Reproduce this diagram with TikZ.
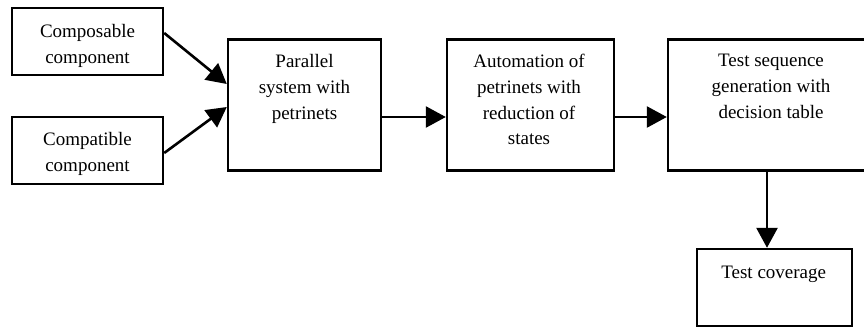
\documentclass[tikz,border=0pt]{standalone}
\usepackage{fontspec}
\setmainfont{Liberation Serif}
\usetikzlibrary{arrows.meta}
\begin{document}
\begin{tikzpicture}[x=1pt,y=-1pt,
  box/.style={draw, line width=2.4pt, rectangle, inner sep=0pt},
  txt/.style={anchor=north, align=center, inner sep=0pt, font=\fontsize{19}{25.8}\selectfont},
  arr/.style={line width=2.6pt, -{Triangle[length=20pt,width=21pt]}}]
\clip (0,0) rectangle (864,327);
\fill[white] (0,0) rectangle (864,327);
% boxes
\node[box, minimum width=151pt, minimum height=67pt] (c1) at (87.5,41.5) {};
\node[box, minimum width=151pt, minimum height=67pt] (c2) at (87.5,150.5) {};
\node[box, minimum width=153pt, minimum height=131pt] (par) at (304.5,105) {};
\node[box, minimum width=167pt, minimum height=131pt] (aut) at (530.5,105) {};
\node[box, minimum width=202pt, minimum height=131pt] (tsq) at (769,105) {};
\node[box, minimum width=155pt, minimum height=77pt] (cov) at (774.5,287.5) {};
% texts
\node[txt] (t1) at (87.5,24.5) {Composable\\component};
\node[txt] (t2) at (87.5,132.5) {Compatible\\component};
\node[txt] (t3) at (304.5,54.5) {Parallel\\system with\\petrinets};
\node[txt] (t4) at (529,54) {Automation of\\petrinets with\\reduction of\\states};
\node[txt] (t5) at (771,54) {Test sequence\\generation with\\decision table};
\node[txt] (t6) at (773.7,265.5) {Test coverage};
% connectors
\draw[arr] ([yshift=8.5pt]c1.east) -- ([yshift=21pt]par.west);
\draw[arr] ([yshift=-2.5pt]c2.east) -- ([yshift=-2pt]par.west);
\draw[arr] ([yshift=-12pt]par.east) -- ([yshift=-12pt]aut.west);
\draw[arr] ([yshift=-12pt]aut.east) -- ([yshift=-12pt]tsq.west);
\draw[arr] ([xshift=-2pt]tsq.south) -- ([xshift=-7.5pt]cov.north);
\end{tikzpicture}
\end{document}
